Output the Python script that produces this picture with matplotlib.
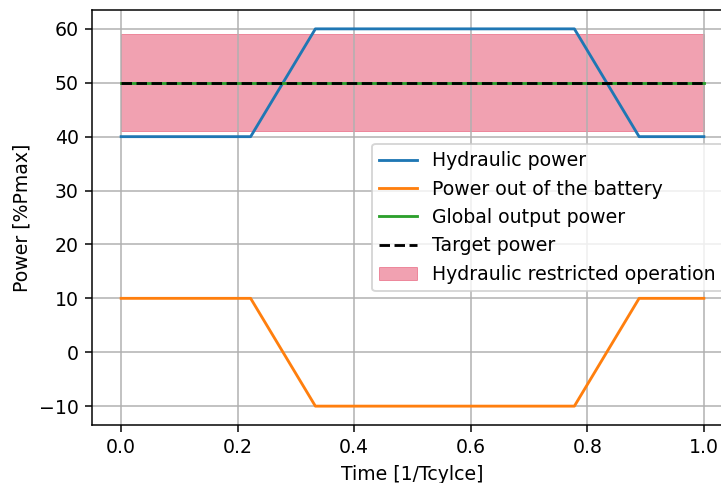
import numpy as np
import matplotlib
matplotlib.use("Agg")
import matplotlib.pyplot as plt

# time points over one cycle (1/Tcycle)
t = [0.0, 1/9, 2/9, 3/9, 4/9, 5/9, 6/9, 7/9, 8/9, 1.0]
hydraulic = [40, 40, 40, 60, 60, 60, 60, 60, 40, 40]
battery = [10, 10, 10, -10, -10, -10, -10, -10, 10, 10]
global_out = [50, 50, 50, 50, 50, 50, 50, 50, 50, 50]
target = [50, 50, 50, 50, 50, 50, 50, 50, 50, 50]

# restricted operation band
band_t = [0.0, 1.0]
band_low = 41
band_high = 59

DPI = 136
fig = plt.figure(figsize=(721/DPI, 483/DPI), dpi=DPI)
ax = fig.add_axes([92/721, 58/483, 641/721, 415/483])

ax.plot(t, hydraulic, label="Hydraulic power")
ax.plot(t, battery, label="Power out of the battery")
ax.plot(t, global_out, label="Global output power")
ax.plot(t, target, "k--", label="Target power")
ax.fill_between(band_t, band_low, band_high, color="crimson", alpha=0.4,
                linewidth=0.5, label="Hydraulic restricted operation")

ax.set_xlabel("Time [1/Tcylce]")
ax.set_ylabel("Power [%Pmax]")
ax.grid(True)
ax.legend(loc="center right")

fig.savefig("out.png", dpi=DPI)
